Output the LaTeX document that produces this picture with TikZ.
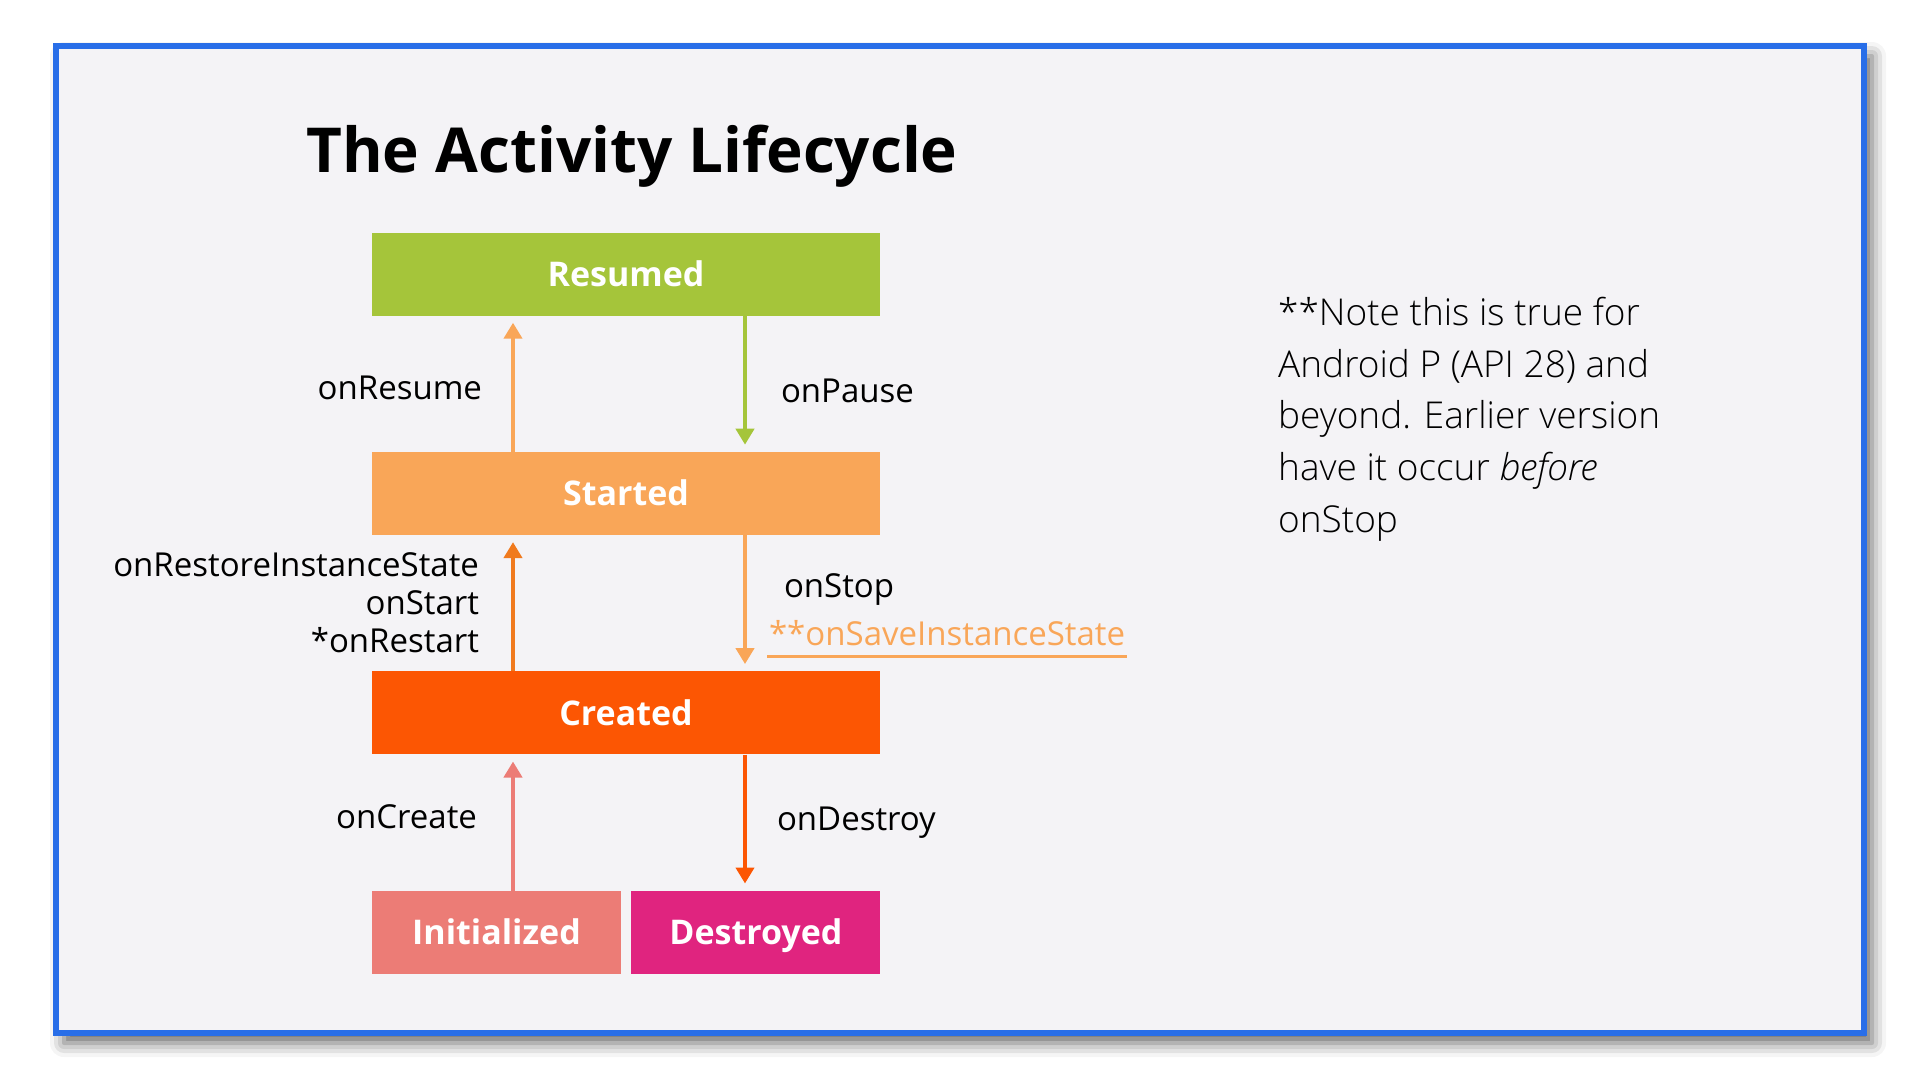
\documentclass[tikz,border=0pt]{standalone}
\usepackage{fontspec}
\setmainfont{Open Sans}
\newfontfamily\notefont{Open Sans Light}
\usepackage{tikz}
\usetikzlibrary{arrows.meta,positioning,shadows.blur}
\definecolor{framewhite}{RGB}{244,243,246}
\definecolor{frameblue}{RGB}{40,110,232}
\definecolor{resumedgreen}{RGB}{165,197,58}
\definecolor{startedorange}{RGB}{249,166,88}
\definecolor{createdorange}{RGB}{252,86,3}
\definecolor{restoreorange}{RGB}{240,122,30}
\definecolor{initsalmon}{RGB}{236,124,118}
\definecolor{destroyedpink}{RGB}{224,36,127}
\tikzset{phase/.style={rectangle, inner sep=0pt, minimum width=508pt, minimum height=83pt, text height=30pt, text depth=5pt, text=white, font=\fontsize{34}{40}\selectfont\bfseries}, endphase/.style={phase, minimum width=249pt}, flow/.style={-{Triangle[length=16pt,width=18pt]}, line width=4pt, shorten >=7pt}, hook/.style={inner sep=0pt, align=right, text=black, font=\fontsize{33}{38}\selectfont}}

\begin{document}
\begin{tikzpicture}[x=1pt, y=-1pt, node distance=136pt and 10pt]
\useasboundingbox (0,0) rectangle (1920,1080);
\draw[frameblue, line width=6pt, fill=framewhite, blur shadow={shadow xshift=8pt, shadow yshift=-10pt, shadow blur radius=14pt, shadow opacity=60}] (56,46) rectangle (1864,1033);
\node[anchor=base west, inner sep=0pt, font=\fontsize{62}{68}\selectfont\bfseries] (title) at (306,172) {The Activity Lifecycle};
\node[phase, fill=resumedgreen] (resumed) at (626,274) {Resumed};
\node[phase, fill=startedorange, below=of resumed] (started) {Started};
\node[phase, fill=createdorange, below=of started] (created) {Created};
\node[endphase, fill=initsalmon, below=of created.south west, anchor=north west] (initialized) {Initialized};
\node[endphase, fill=destroyedpink, right=of initialized] (destroyed) {Destroyed};
\coordinate (leftrail) at (513,0);
\coordinate (rightrail) at (745,0);
\draw[flow, startedorange] (started.north -| leftrail) -- (resumed.south -| leftrail) node[hook, pos=0.47, left=29pt] {onResume};
\draw[flow, resumedgreen] (resumed.south -| rightrail) -- (started.north -| rightrail) node[hook, pos=0.55, right=34pt] {onPause};
\draw[flow, restoreorange] (created.north -| leftrail) -- (started.south -| leftrail) node[hook, midway, left=32pt] {onRestoreInstanceState\\onStart\\*onRestart};
\draw[flow, startedorange] (started.south -| rightrail) -- (created.north -| rightrail) node[hook, pos=0.4, right=37pt] (stoplabel) {onStop} node[hook, pos=0.72, right=22pt, text=startedorange] (savelabel) {**onSaveInstanceState};
\draw[startedorange, line width=2.5pt] ([yshift=-9pt]savelabel.south west) -- ([yshift=-9pt]savelabel.south east);
\draw[flow, initsalmon] (initialized.north -| leftrail) -- (created.south -| leftrail) node[hook, pos=0.54, left=34pt] {onCreate};
\draw[flow, createdorange] (created.south -| rightrail) -- (destroyed.north -| rightrail) node[hook, midway, right=30pt] {onDestroy};
\node[anchor=north west, inner sep=0pt, align=left, font=\notefont\fontsize{37}{51.7}\selectfont] (note) at (1278,297) {**Note this is true for\\Android P (API 28) and\\beyond. Earlier version\\have it occur \textit{before}\\onStop};
\end{tikzpicture}
\end{document}
